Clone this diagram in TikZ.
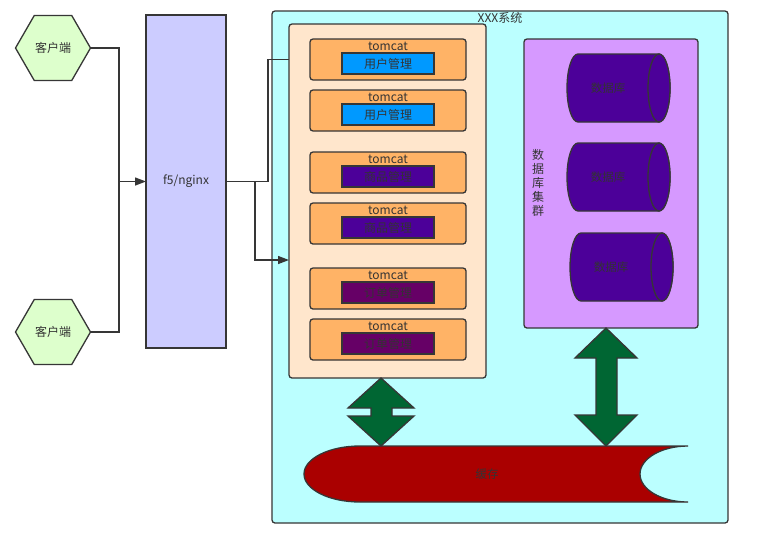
\documentclass[tikz,border=0pt]{standalone}
\usepackage{fontspec}
\setmainfont{Noto Sans CJK SC}
\usetikzlibrary{positioning,shapes.geometric,arrows.meta,calc}

\definecolor{linegray}{HTML}{363636}
\definecolor{textgray}{HTML}{333333}
\definecolor{clientgreen}{HTML}{DDFFCC}
\definecolor{lbblue}{HTML}{CCCCFF}
\definecolor{syscyan}{HTML}{BBFFFF}
\definecolor{apppeach}{HTML}{FFE6CC}
\definecolor{tomcatorange}{HTML}{FFB366}
\definecolor{userblue}{HTML}{0099FF}
\definecolor{goodspurple}{HTML}{4C0099}
\definecolor{orderwine}{HTML}{660066}
\definecolor{dblilac}{HTML}{D699FF}
\definecolor{syncgreen}{HTML}{006633}
\definecolor{cachered}{HTML}{AA0000}

\tikzset{
  client/.style={draw=linegray, line width=1.3pt, fill=clientgreen, regular polygon, regular polygon sides=6, minimum size=75pt, inner sep=0pt, outer sep=0pt},
  box/.style={draw=linegray, line width=1.3pt, rectangle, inner sep=0pt, outer sep=0pt},
  frame/.style={box, rounded corners=3pt},
  tomcat/.style={frame, fill=tomcatorange, minimum width=156pt, minimum height=41pt},
  tclabel/.style={inner sep=1pt, outer sep=0pt},
  module/.style={box, minimum width=92pt, minimum height=21pt},
  dbshape/.style={draw=linegray, line width=1.3pt, fill=goodspurple},
  dbtext/.style={font=\fontsize{11.5}{13}\selectfont},
  sync/.style={draw=linegray, line width=1.3pt, fill=syncgreen},
  conn/.style={draw=linegray, line width=1.3pt},
  endtip/.style={-{Triangle[length=11pt,width=8pt]}}
}

\begin{document}
\begin{tikzpicture}[x=1pt, y=-1pt, font=\fontsize{12}{14}\selectfont, every node/.style={text=textgray}]
    \fill[white] (0,0) rectangle (775,536);
    \useasboundingbox (0,0) rectangle (775,536);

    % Define the clients and the balancer
    \node[client] (client1) at (53,48) {客户端};
    \node[client] (client2) at (53,332) {客户端};
    \node[box, fill=lbblue, minimum width=80pt, minimum height=333pt] (f5) at (186,181.5) {f5/nginx};

    % Define the system frame
    \node[frame, fill=syscyan, minimum width=456pt, minimum height=512pt] (sys) at (500,267) {};
    \node[anchor=north, inner sep=1pt] (systitle) at (sys.north) {XXX系统};
    \node[frame, fill=apppeach, minimum width=197pt, minimum height=354pt] (apps) at (387.5,201) {};

    % Define the tomcat boxes
    \node[tomcat] (tc1) at (388,59.5) {};
    \node[tomcat, below=10pt of tc1] (tc2) {};
    \node[tomcat, below=21pt of tc2] (tc3) {};
    \node[tomcat, below=10pt of tc3] (tc4) {};
    \node[tomcat, below=24pt of tc4] (tc5) {};
    \node[tomcat, below=10pt of tc5] (tc6) {};

    \node[tclabel, below=2pt of tc1.north] (tct1) {tomcat};
    \node[tclabel, below=2pt of tc2.north] (tct2) {tomcat};
    \node[tclabel, below=2pt of tc3.north] (tct3) {tomcat};
    \node[tclabel, below=2pt of tc4.north] (tct4) {tomcat};
    \node[tclabel, below=2pt of tc5.north] (tct5) {tomcat};
    \node[tclabel, below=2pt of tc6.north] (tct6) {tomcat};

    \node[module, fill=userblue, below=14pt of tc1.north] (mod1) {用户管理};
    \node[module, fill=userblue, below=14pt of tc2.north] (mod2) {用户管理};
    \node[module, fill=goodspurple, below=14pt of tc3.north] (mod3) {商品管理};
    \node[module, fill=goodspurple, below=14pt of tc4.north] (mod4) {商品管理};
    \node[module, fill=orderwine, below=14pt of tc5.north] (mod5) {订单管理};
    \node[module, fill=orderwine, below=14pt of tc6.north] (mod6) {订单管理};

    % Define the database cluster
    \node[frame, fill=dblilac, minimum width=174pt, minimum height=289pt] (cluster) at (611,183.5) {};
    \node[align=center, inner sep=0pt] (clustertitle) at (538,183) {数\\据\\库\\集\\群};

    % Draw the database cylinders
    \draw[dbshape] (659,54) -- (578,54) arc[start angle=90, end angle=270, x radius=11pt, y radius=34pt] -- (659,122) arc[start angle=-90, end angle=90, x radius=11pt, y radius=34pt] -- cycle;
    \draw[dbshape] (659,88) ellipse[x radius=11pt, y radius=34pt];
    \draw[dbshape] (659,143) -- (578,143) arc[start angle=90, end angle=270, x radius=11pt, y radius=34pt] -- (659,211) arc[start angle=-90, end angle=90, x radius=11pt, y radius=34pt] -- cycle;
    \draw[dbshape] (659,177) ellipse[x radius=11pt, y radius=34pt];
    \draw[dbshape] (662,233) -- (581,233) arc[start angle=90, end angle=270, x radius=11pt, y radius=34pt] -- (662,301) arc[start angle=-90, end angle=90, x radius=11pt, y radius=34pt] -- cycle;
    \draw[dbshape] (662,267) ellipse[x radius=11pt, y radius=34pt];
    \node[dbtext] (db1) at (608,88) {数据库};
    \node[dbtext] (db2) at (608,177) {数据库};
    \node[dbtext] (db3) at (611,267) {数据库};

    % Draw the cache
    \draw[draw=linegray, line width=1.3pt, fill=cachered] (360,446) -- (688,446) arc[start angle=90, end angle=270, x radius=48pt, y radius=28pt] -- (360,502) arc[start angle=270, end angle=90, x radius=56pt, y radius=28pt] -- cycle;
    \node[dbtext] (cache) at (487,474) {缓存};

    % Draw the sync arrows
    \draw[sync] (381,378) -- (414,408) -- (392,408) -- (392,416) -- (414,416) -- (381,446) -- (348,416) -- (371,416) -- (371,408) -- (348,408) -- cycle;
    \draw[sync] (606,328) -- (637,358) -- (617,358) -- (617,415) -- (637,415) -- (606,446) -- (575,415) -- (596,415) -- (596,358) -- (575,358) -- cycle;

    % Draw arrows between the boxes
    \coordinate (join) at ($(f5.west)+(-27,0)$);
    \coordinate (split) at ($(f5.east)+(29,0)$);
    \coordinate (bend) at ($(apps.west |- tc1)+(-21,0)$);
    \draw[conn, endtip] (client1.east) -| (join) -- (f5.west);
    \draw[conn] (client2.east) -| (join);
    \draw[conn] (f5.east) -| (bend) -- (apps.west |- tc1);
    \draw[conn, endtip] (split) |- ($(apps.west)+(0,59)$);
\end{tikzpicture}
\end{document}
